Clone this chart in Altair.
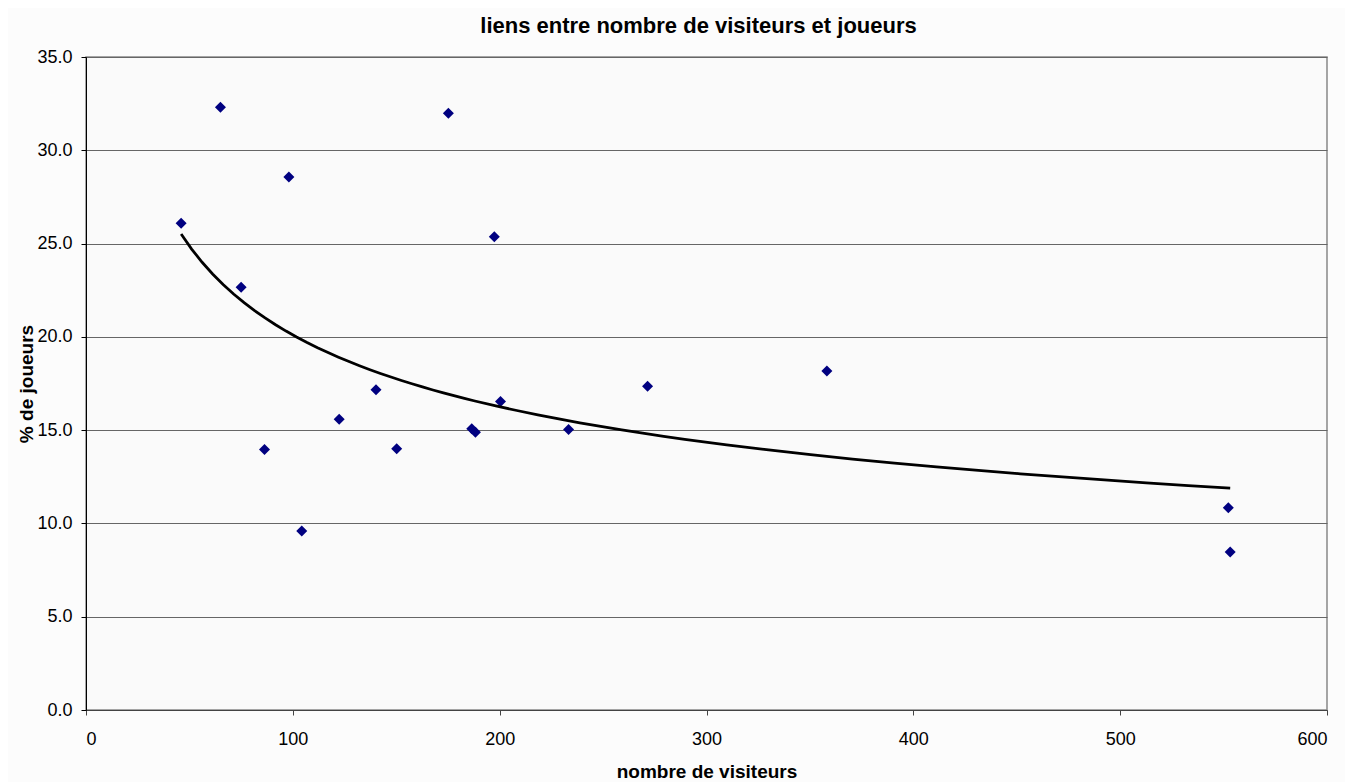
import altair as alt
import pandas as pd

# Data
visiteurs = [46, 65, 75, 86.3, 98.1, 104.3, 122.4, 140.2, 150.2, 175.2,
             186.5, 188.3, 197.4, 200.4, 233.3, 271.5, 358.2, 552.3, 553.2]
joueurs = [26.09, 32.31, 22.66, 13.96, 28.57, 9.6, 15.59, 17.17, 14.0, 31.99,
           15.07, 14.89, 25.36, 16.53, 15.04, 17.35, 18.17, 10.84, 8.47]
x_ticks = [0, 100, 200, 300, 400, 500, 600]
y_ticks = [0, 5, 10, 15, 20, 25, 30, 35]

df = pd.DataFrame({"visiteurs": visiteurs, "joueurs": joueurs})

FONT = "Liberation Sans"

x_enc = alt.X(
    "visiteurs:Q",
    scale=alt.Scale(domain=[0, 600], nice=False, zero=False),
    axis=alt.Axis(
        title="nombre de visiteurs",
        values=x_ticks,
        format="d",
        grid=False,
        tickSize=5,
        labelPadding=15,
        titlePadding=14,
        domainColor="#444444",
        tickColor="#444444",
    ),
)
y_enc = alt.Y(
    "joueurs:Q",
    scale=alt.Scale(domain=[0, 35], nice=False),
    axis=alt.Axis(
        title="% de joueurs",
        values=y_ticks,
        format=".1f",
        grid=True,
        gridColor="#666666",
        tickSize=5,
        labelPadding=9,
        titlePadding=0,
        domainColor="#000000",
        tickColor="#000000",
    ),
)

base = alt.Chart(df)

points = base.mark_point(
    shape="diamond", filled=True, size=121, color="#000080", opacity=1
).encode(x=x_enc, y=y_enc)

trend = base.transform_regression(
    "visiteurs", "joueurs", method="pow"
).mark_line(color="#000000", strokeWidth=2.75).encode(
    x="visiteurs:Q", y="joueurs:Q"
)

chart = alt.layer(points, trend).properties(
    width=1241,
    height=653,
    padding={"left": 78, "top": 49, "right": 18, "bottom": 72},
    autosize=alt.AutoSizeParams(type="none"),
    background="#fcfcfc",
    title=alt.Title(
        "liens entre nombre de visiteurs et joueurs",
        font=FONT,
        fontSize=22,
        fontWeight="bold",
        color="#000000",
        anchor="middle",
        offset=10,
        dx=-8,
    ),
).configure_view(
    fill="#fafafa", stroke="#888888", strokeWidth=1.5
).configure_axis(
    labelFont=FONT,
    labelFontSize=18,
    labelColor="#000000",
    titleFont=FONT,
    titleFontSize=19,
    titleFontWeight="bold",
    titleColor="#000000",
)

chart.save("out.html", embed_options={"renderer": "svg", "actions": False})
